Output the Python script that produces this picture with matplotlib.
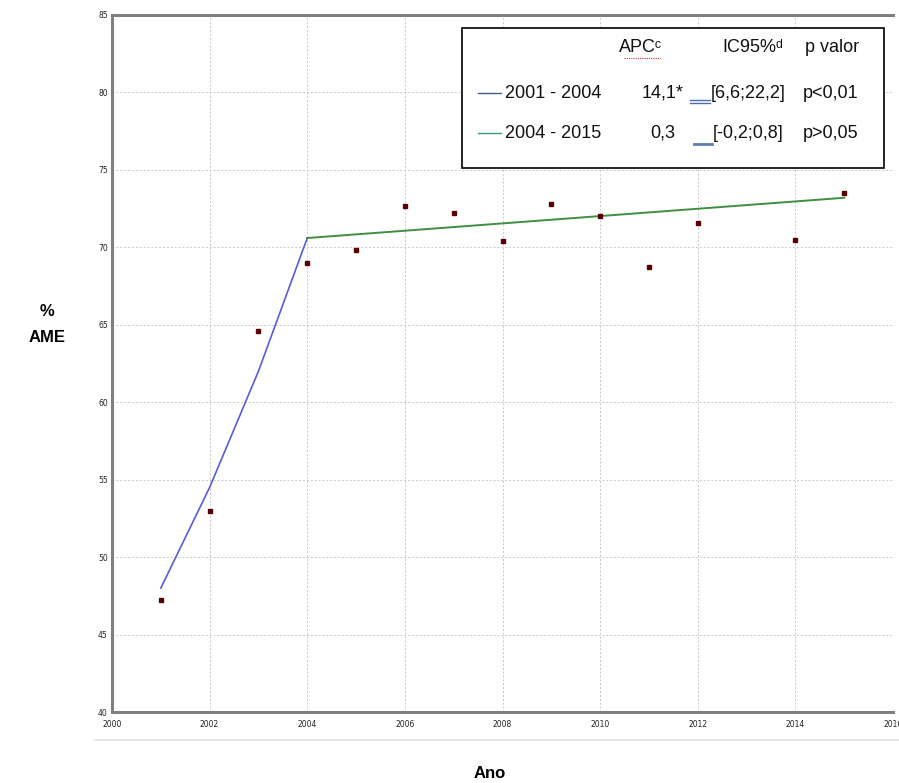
import numpy as np
import matplotlib
matplotlib.use("Agg")
import matplotlib.pyplot as plt
from matplotlib.lines import Line2D
from matplotlib.patches import Rectangle

# observed values (% AME)
years = [2001, 2002, 2003, 2004, 2005, 2006, 2007, 2008, 2009, 2010, 2011, 2012, 2014, 2015]
ame = [47.2, 53.0, 64.6, 69.0, 69.8, 72.7, 72.2, 70.4, 72.8, 72.0, 68.7, 71.6, 70.5, 73.5]

# joinpoint fitted segments
seg1_years = [2001, 2002, 2003, 2004]
seg1_fit = [48.0, 54.5, 62.0, 70.6]
seg2_years = [2004, 2015]
seg2_fit = [70.6, 73.2]

# legend table
header = ["APC\u1d9c", "IC95%\u1d48", "p valor"]
periods = ["2001 - 2004", "2004 - 2015"]
apc = ["14,1*", "0,3"]
ic95 = ["[6,6;22,2]", "[-0,2;0,8]"]
pval = ["p<0,01", "p>0,05"]

W, H = 899, 783
fig = plt.figure(figsize=(W / 100, H / 100), dpi=100)
ax = fig.add_axes([112 / W, 1 - 712 / H, 781 / W, 697 / H])

ax.plot(seg1_years, seg1_fit, color="#5b5bd6", lw=1.2)
ax.plot(seg2_years, seg2_fit, color="#3f8f3f", lw=1.4)
ax.plot(years, ame, "s", color="#5a0000", markersize=3)

ax.set_xlim(2000, 2016)
ax.set_ylim(40, 85)
ax.set_xticks(np.arange(2000, 2017, 2))
ax.set_yticks(np.arange(40, 86, 5))
tick_font = dict(family=["Liberation Sans Narrow", "DejaVu Sans"], fontsize=5.5)
ax.set_xticklabels([str(y) for y in range(2000, 2017, 2)], **tick_font)
ax.set_yticklabels([str(v) for v in range(40, 86, 5)], **tick_font)
ax.tick_params(length=0, pad=6, colors="#222222")
ax.tick_params(axis="y", pad=3)
ax.grid(True, color="#c8c8c8", lw=0.7, ls=(0, (2, 2)))
ax.set_axisbelow(True)
for s in ["left", "top", "bottom"]:
    ax.spines[s].set_color("#7f7f7f")
    ax.spines[s].set_linewidth(2.2)
ax.spines["right"].set_visible(False)

# axis labels
fig.text(47 / W, 1 - 312 / H, "%", ha="center", va="center", fontsize=12,
         fontweight="bold", family="Liberation Sans")
fig.text(47 / W, 1 - 338 / H, "AME", ha="center", va="center", fontsize=12,
         fontweight="bold", family="Liberation Sans")
fig.text(490 / W, 1 - 773 / H, "Ano", ha="center", va="center", fontsize=12,
         fontweight="bold", family="Liberation Sans")

# thin separator line under the plot
fig.add_artist(Line2D([95 / W, 1.0], [1 - 740 / H, 1 - 740 / H], color="#e2e2e2", lw=1.2))

# legend box drawn as a small table
fig.add_artist(Rectangle((462 / W, 1 - 168 / H), 422 / W, 140 / H, transform=fig.transFigure,
                         facecolor="white", edgecolor="black", lw=1.2, zorder=5))
lf = dict(family=["Liberation Sans", "DejaVu Sans"], fontsize=13, color="#111111",
          va="center", zorder=6)
fig.text(641 / W, 1 - 47 / H, header[0], ha="center", **lf)
fig.text(753 / W, 1 - 47 / H, header[1], ha="center", **lf)
fig.text(832 / W, 1 - 47 / H, header[2], ha="center", **lf)
fig.add_artist(Line2D([624 / W, 660 / W], [1 - 58 / H, 1 - 58 / H], color="#d03030",
                      lw=0.8, ls=(0, (1, 1)), zorder=6))

row_y = [93, 133]
handle_colors = ["#3d5f8f", "#3a9a7a"]
for i in range(2):
    yy = 1 - row_y[i] / H
    fig.add_artist(Line2D([478 / W, 501 / W], [yy, yy], color=handle_colors[i], lw=1.0, zorder=6))
    fig.text(505 / W, yy, periods[i], ha="left", **lf)
    fig.text(663 / W, yy, apc[i], ha="center", **lf)
    fig.text(748 / W, yy, ic95[i], ha="center", **lf)
    fig.text(831 / W, yy, pval[i], ha="center", **lf)

# small blue marks next to the intervals
fig.add_artist(Line2D([690 / W, 710 / W], [1 - 100 / H, 1 - 100 / H], color="#4a6fb0", lw=1.0, zorder=6))
fig.add_artist(Line2D([690 / W, 710 / W], [1 - 102.5 / H, 1 - 102.5 / H], color="#4a6fb0", lw=1.0, zorder=6))
fig.add_artist(Line2D([694 / W, 712 / W], [1 - 144 / H, 1 - 144 / H], color="#5a7fb0", lw=2.0, zorder=6))

fig.savefig("out.png", dpi=100)
